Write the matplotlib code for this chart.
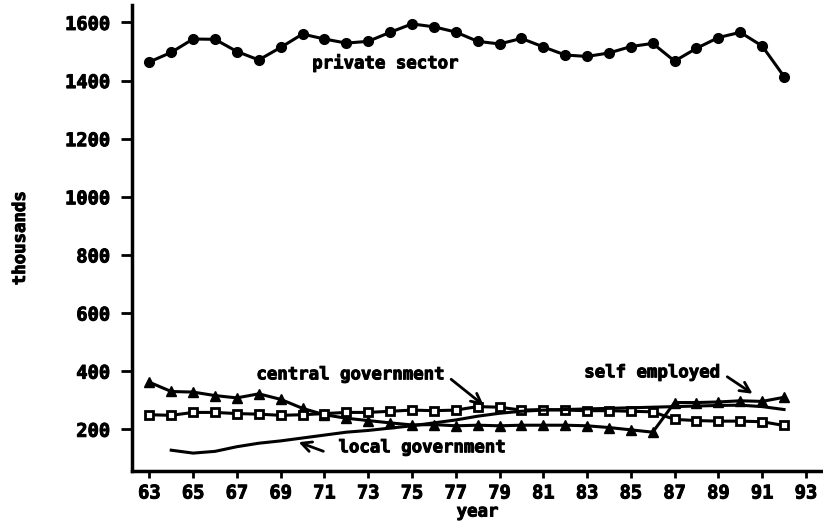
import matplotlib
matplotlib.use('Agg')
import matplotlib.pyplot as plt
import matplotlib.patheffects as pe

# employment by sector, thousands
years = list(range(63, 93))
years_local = list(range(64, 93))

private_sector = [1464, 1497, 1543, 1542, 1500, 1471, 1514, 1560, 1543, 1529,
                  1535, 1566, 1595, 1585, 1567, 1535, 1526, 1545, 1516, 1488,
                  1483, 1495, 1517, 1528, 1467, 1511, 1548, 1566, 1519, 1414]

self_employed = [362, 330, 328, 316, 308, 322, 303, 272, 250, 238,
                 230, 222, 215, 216, 212, 214, 212, 214, 214, 214,
                 212, 206, 198, 190, 292, 292, 294, 298, 296, 310]

central_government = [250, 248, 258, 258, 254, 252, 248, 250, 254, 258,
                      258, 262, 266, 264, 266, 278, 276, 266, 268, 266,
                      264, 264, 262, 260, 234, 230, 228, 228, 226, 213]

local_government = [128, 118, 124, 140, 152, 160, 170, 180, 190, 196,
                    204, 212, 222, 232, 245, 255, 262, 266, 268, 270,
                    272, 274, 276, 278, 280, 282, 283, 278, 268]

xticks = list(range(63, 94, 2))
yticks = list(range(200, 1601, 200))

font = 'DejaVu Sans Mono'
fsize = 12.5
tsize = 13.5
heavy = [pe.withStroke(linewidth=0.7, foreground='black')]

fig = plt.figure(figsize=(8.23, 5.28), dpi=100)
ax = fig.add_axes([0.1607, 0.108, 0.8393, 0.8825])

ax.plot(years, private_sector, color='black', lw=2.2, marker='o', ms=7,
        mfc='black', mec='black')
ax.plot(years, self_employed, color='black', lw=2.2, marker='^', ms=7,
        mfc='black', mec='black')
ax.plot(years, central_government, color='black', lw=2.2, marker='s', ms=6,
        mfc='white', mec='black', mew=2)
ax.plot(years_local, local_government, color='black', lw=2.2)

# labels on the lines
txt = dict(fontfamily=font, fontweight='bold', fontsize=fsize,
           ha='center', va='center', path_effects=heavy)
ax.text(73.8, 1461, 'private sector', **txt)
ax.text(72.21, 389, 'central government', **txt)
ax.text(75.48, 138, 'local government', **txt)
ax.text(85.99, 396, 'self employed', **txt)

arrow = dict(arrowstyle='->', color='black', lw=2, mutation_scale=18)
ax.annotate('', xy=(78.38, 276), xytext=(76.69, 378), arrowprops=arrow)
ax.annotate('', xy=(90.67, 317), xytext=(89.30, 386), arrowprops=arrow)
ax.annotate('', xy=(69.70, 159), xytext=(71.07, 121), arrowprops=arrow)

ax.set_xlim(62.22, 93.78)
ax.set_ylim(56.5, 1660)
ax.set_xticks(xticks)
ax.set_yticks(yticks)
ax.set_xticklabels([str(t) for t in xticks], fontfamily=font,
                   fontweight='bold', fontsize=tsize, path_effects=heavy)
ax.set_yticklabels([str(t) for t in yticks], fontfamily=font,
                   fontweight='bold', fontsize=tsize, path_effects=heavy)
ax.tick_params(axis='x', length=5, width=2, pad=4)
ax.tick_params(axis='y', length=8, width=2, pad=8)

ax.set_xlabel('year', fontfamily=font, fontweight='bold', fontsize=fsize,
              labelpad=0, path_effects=heavy)
ax.set_ylabel('thousands', fontfamily=font, fontweight='bold',
              fontsize=fsize, labelpad=26, path_effects=heavy)

for side in ['top', 'right']:
    ax.spines[side].set_visible(False)
for side in ['left', 'bottom']:
    ax.spines[side].set_linewidth(2.5)

fig.savefig('out.png', dpi=100)
